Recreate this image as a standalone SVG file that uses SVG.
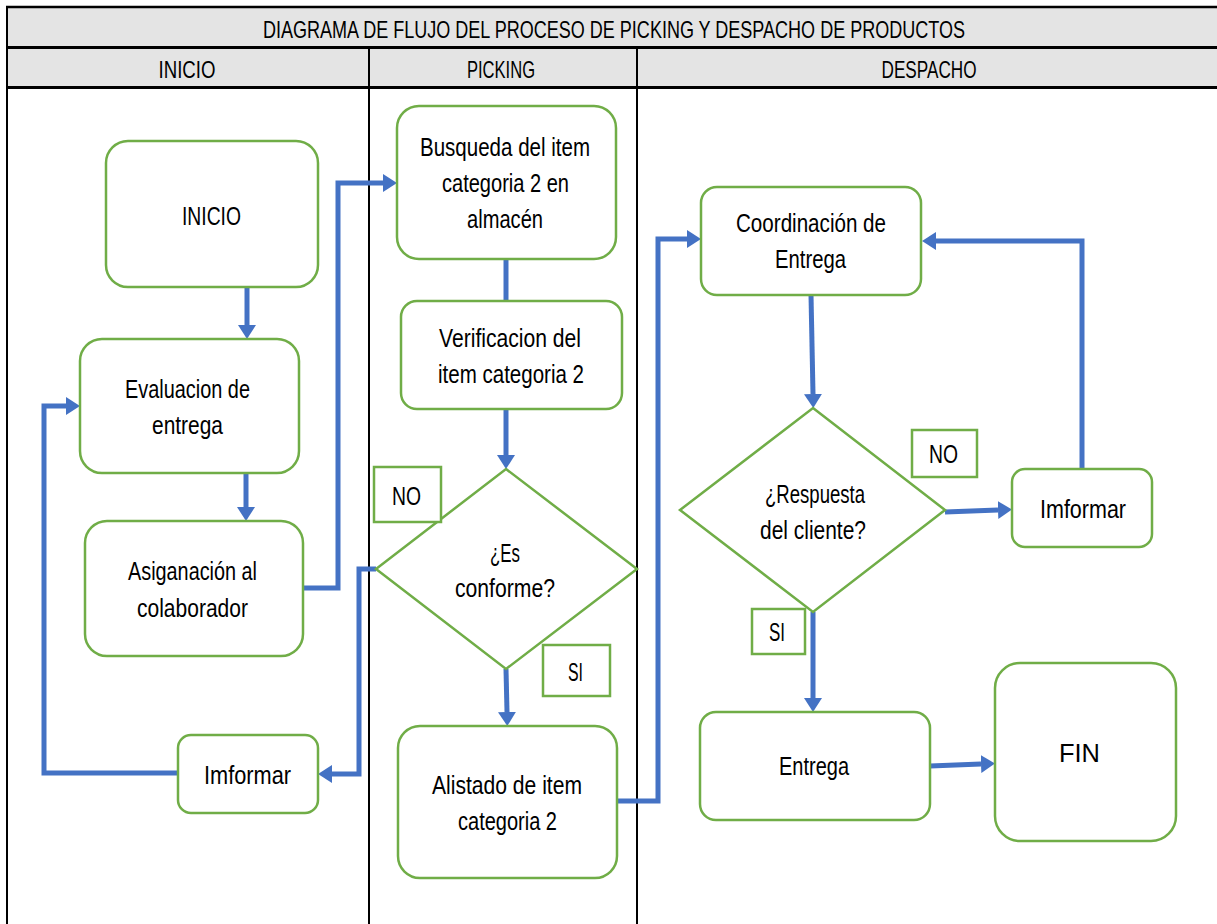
<svg xmlns="http://www.w3.org/2000/svg" width="1217" height="924" viewBox="0 0 1217 924">
  <style>
    .hdr { fill: #e4e4e4; }
    .grid { stroke: #000; fill: none; }
    .box { fill: #fff; stroke: #70ad47; stroke-width: 2.5; }
    .tag { fill: #fff; stroke: #70ad47; stroke-width: 2.5; }
    .t { font-family: "Liberation Sans", Arial, sans-serif; font-size: 25px; fill: #000; text-anchor: middle; }
    .h { font-family: "Liberation Sans", Arial, sans-serif; font-size: 24px; fill: #000; text-anchor: middle; }
    .edge { fill: none; stroke: #4472c4; stroke-width: 5; stroke-linejoin: miter; }
  </style>
  <defs>
    <marker id="arrow" markerUnits="userSpaceOnUse" markerWidth="16" markerHeight="20" refX="0" refY="9" orient="auto">
      <path d="M0,0 L14,9 L0,18 z" fill="#4472c4"/>
    </marker>
  </defs>

  <rect width="1217" height="924" fill="#fff"/>

  <!-- swimlane table -->
  <g id="table">
    <rect class="hdr" x="7" y="7" width="1210" height="81"/>
    <line class="grid" x1="6" y1="7" x2="1217" y2="7" stroke-width="2.5"/>
    <line class="grid" x1="6" y1="47.5" x2="1217" y2="47.5" stroke-width="3"/>
    <line class="grid" x1="6" y1="87.5" x2="1217" y2="87.5" stroke-width="3"/>
    <line class="grid" x1="7" y1="6" x2="7" y2="924" stroke-width="2"/>
    <line class="grid" x1="369" y1="47" x2="369" y2="924" stroke-width="2"/>
    <line class="grid" x1="637" y1="47" x2="637" y2="924" stroke-width="2"/>
    <text class="h" x="614" y="38" textLength="702" lengthAdjust="spacingAndGlyphs">DIAGRAMA DE FLUJO DEL PROCESO DE PICKING Y DESPACHO DE PRODUCTOS</text>
    <text class="h" x="187" y="78" textLength="57" lengthAdjust="spacingAndGlyphs">INICIO</text>
    <text class="h" x="501" y="78" textLength="68" lengthAdjust="spacingAndGlyphs">PICKING</text>
    <text class="h" x="929" y="78" textLength="95" lengthAdjust="spacingAndGlyphs">DESPACHO</text>
  </g>

  <!-- connectors -->
  <g id="connectors">
    <path class="edge" d="M247,287 L247,325" marker-end="url(#arrow)"/>
    <path class="edge" d="M246,473 L246,507" marker-end="url(#arrow)"/>
    <path class="edge" d="M303,588 L338,588 L338,183 L383,183" marker-end="url(#arrow)"/>
    <path class="edge" d="M506,259 L506,301"/>
    <path class="edge" d="M506,409 L506,455" marker-end="url(#arrow)"/>
    <path class="edge" d="M376,569 L359,569 L359,774 L332,774" marker-end="url(#arrow)"/>
    <path class="edge" d="M178,773 L44,773 L44,406 L66,406" marker-end="url(#arrow)"/>
    <path class="edge" d="M506,669 L507,712" marker-end="url(#arrow)"/>
    <path class="edge" d="M617,801 L658,801 L658,239 L687,239" marker-end="url(#arrow)"/>
    <path class="edge" d="M811,295 L813,394" marker-end="url(#arrow)"/>
    <path class="edge" d="M945,512 L998,510" marker-end="url(#arrow)"/>
    <path class="edge" d="M1082,469 L1082,241 L936,241" marker-end="url(#arrow)"/>
    <path class="edge" d="M813,612 L813,698" marker-end="url(#arrow)"/>
    <path class="edge" d="M930,766 L981,764" marker-end="url(#arrow)"/>
  </g>

  <!-- INICIO lane -->
  <g id="n-inicio">
    <rect class="box" x="106" y="141" width="212" height="146" rx="22"/>
    <text class="t" x="211.5" y="225" textLength="59" lengthAdjust="spacingAndGlyphs">INICIO</text>
  </g>
  <g id="n-evaluacion">
    <rect class="box" x="80" y="339" width="219" height="134" rx="22"/>
    <text class="t" x="187.5" y="398" textLength="125" lengthAdjust="spacingAndGlyphs">Evaluacion de</text>
    <text class="t" x="187.5" y="434" textLength="71" lengthAdjust="spacingAndGlyphs">entrega</text>
  </g>
  <g id="n-asignacion">
    <rect class="box" x="85" y="521" width="218" height="135" rx="22"/>
    <text class="t" x="192.5" y="580" textLength="129" lengthAdjust="spacingAndGlyphs">Asiganación al</text>
    <text class="t" x="192.5" y="617" textLength="111" lengthAdjust="spacingAndGlyphs">colaborador</text>
  </g>
  <g id="n-imformar-1">
    <rect class="box" x="178" y="735" width="140" height="78" rx="13"/>
    <text class="t" x="247.5" y="784" textLength="87" lengthAdjust="spacingAndGlyphs">Imformar</text>
  </g>

  <!-- PICKING lane -->
  <g id="n-busqueda">
    <rect class="box" x="397" y="106" width="219" height="153" rx="22"/>
    <text class="t" x="505" y="156" textLength="170" lengthAdjust="spacingAndGlyphs">Busqueda del item</text>
    <text class="t" x="505.5" y="192" textLength="127" lengthAdjust="spacingAndGlyphs">categoria 2 en</text>
    <text class="t" x="505" y="228" textLength="76" lengthAdjust="spacingAndGlyphs">almacén</text>
  </g>
  <g id="n-verificacion">
    <rect class="box" x="401" y="301" width="221" height="108" rx="16"/>
    <text class="t" x="510" y="347" textLength="142" lengthAdjust="spacingAndGlyphs">Verificacion del</text>
    <text class="t" x="511" y="383" textLength="146" lengthAdjust="spacingAndGlyphs">item categoria 2</text>
  </g>
  <g id="n-conforme">
    <polygon class="box" points="506,469 637,569 506,669 376,569"/>
    <text class="t" x="505" y="562" textLength="30" lengthAdjust="spacingAndGlyphs">¿Es</text>
    <text class="t" x="505" y="597" textLength="100" lengthAdjust="spacingAndGlyphs">conforme?</text>
  </g>
  <g id="l-no-1">
    <rect class="tag" x="374" y="467" width="67" height="55"/>
    <text class="t" x="406.5" y="505" textLength="29" lengthAdjust="spacingAndGlyphs">NO</text>
  </g>
  <g id="l-si-1">
    <rect class="tag" x="543" y="645" width="67" height="51"/>
    <text class="t" x="575.5" y="681" textLength="15" lengthAdjust="spacingAndGlyphs">SI</text>
  </g>
  <g id="n-alistado">
    <rect class="box" x="398" y="726" width="219" height="152" rx="22"/>
    <text class="t" x="507" y="794" textLength="150" lengthAdjust="spacingAndGlyphs">Alistado de item</text>
    <text class="t" x="507.5" y="830" textLength="99" lengthAdjust="spacingAndGlyphs">categoria 2</text>
  </g>

  <!-- DESPACHO lane -->
  <g id="n-coordinacion">
    <rect class="box" x="701" y="187" width="220" height="108" rx="16"/>
    <text class="t" x="811" y="232" textLength="150" lengthAdjust="spacingAndGlyphs">Coordinación de</text>
    <text class="t" x="810.5" y="268" textLength="71" lengthAdjust="spacingAndGlyphs">Entrega</text>
  </g>
  <g id="n-respuesta">
    <polygon class="box" points="813,408 945,510 813,612 680,510"/>
    <text class="t" x="815" y="503" textLength="100" lengthAdjust="spacingAndGlyphs">¿Respuesta</text>
    <text class="t" x="813" y="539" textLength="106" lengthAdjust="spacingAndGlyphs">del cliente?</text>
  </g>
  <g id="l-no-2">
    <rect class="tag" x="912" y="430" width="65" height="47"/>
    <text class="t" x="943.5" y="463" textLength="29" lengthAdjust="spacingAndGlyphs">NO</text>
  </g>
  <g id="n-imformar-2">
    <rect class="box" x="1012" y="469" width="140" height="78" rx="13"/>
    <text class="t" x="1083" y="518" textLength="86" lengthAdjust="spacingAndGlyphs">Imformar</text>
  </g>
  <g id="l-si-2">
    <rect class="tag" x="752" y="609" width="53" height="45"/>
    <text class="t" x="777" y="641" textLength="16" lengthAdjust="spacingAndGlyphs">SI</text>
  </g>
  <g id="n-entrega">
    <rect class="box" x="700" y="712" width="230" height="108" rx="16"/>
    <text class="t" x="814" y="775" textLength="70" lengthAdjust="spacingAndGlyphs">Entrega</text>
  </g>
  <g id="n-fin">
    <rect class="box" x="995" y="663" width="181" height="178" rx="25"/>
    <text class="t" x="1079.5" y="762" textLength="41" lengthAdjust="spacingAndGlyphs">FIN</text>
  </g>
</svg>
